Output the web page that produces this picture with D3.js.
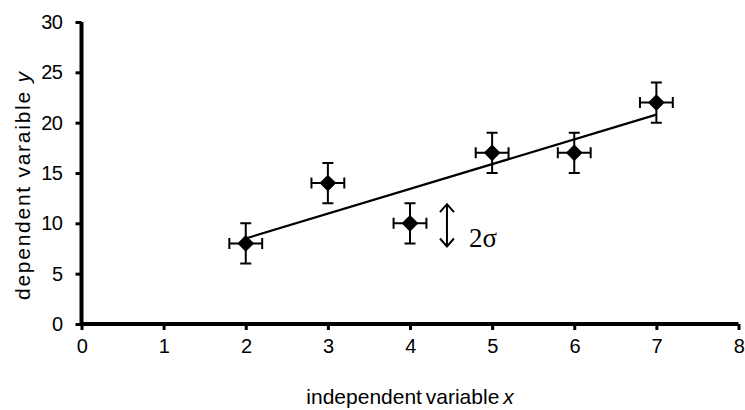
<!DOCTYPE html>
<html>
<head>
    <style>
        body { margin: 0; background: #fff; }
        text { font-family: "Liberation Sans", Arial, sans-serif; fill: #000; }
        .axis text { font-size: 20px; }
        .axis .tick line { stroke: #000; stroke-width: 3px; }
        .bar { stroke: #000; stroke-width: 2px; fill: none; }
    </style>
    <script src="https://d3js.org/d3.v7.min.js"></script>
</head>
<body>
    <div id="chart"></div>

    <script>
        // measurements
        var xValues = [2, 3, 4, 5, 6, 7];
        var yValues = [8, 14, 10, 17, 17, 22];
        var xErr = [0.2, 0.2, 0.2, 0.2, 0.2, 0.2];
        var yErr = [2, 2, 2, 2, 2, 2];

        // fitted straight line (end points)
        var fitX = [2, 7];
        var fitY = [8.5, 20.8];

        var xTicks = [0, 1, 2, 3, 4, 5, 6, 7, 8];
        var yTicks = [0, 5, 10, 15, 20, 25, 30];

        var width = 745, height = 410;

        var svg = d3.select("#chart")
                    .append("svg")
                    .attr("width", width)
                    .attr("height", height);

        var x = d3.scaleLinear().domain([0, 8]).range([81.5, 738.5]);
        var y = d3.scaleLinear().domain([0, 30]).range([324, 22]);

        function tidy(g) {
            g.select(".domain").remove();
            g.selectAll(".tick text").attr("letter-spacing", "-0.5px");
        }

        svg.append("g")
            .attr("class", "axis")
            .attr("transform", "translate(0," + y(0) + ")")
            .call(d3.axisBottom(x).tickValues(xTicks).tickSize(6).tickSizeOuter(0).tickPadding(9))
            .call(tidy);

        svg.append("g")
            .attr("class", "axis")
            .attr("transform", "translate(" + x(0) + ",0)")
            .call(d3.axisLeft(y).tickValues(yTicks).tickSize(6).tickSizeOuter(0).tickPadding(13))
            .call(tidy);

        // heavy axis lines
        svg.append("path")
            .attr("d", "M" + x(0) + "," + y(30) + "V" + y(0) + "H" + x(8))
            .attr("fill", "none")
            .attr("stroke", "#000")
            .attr("stroke-width", 4);

        // trend line
        svg.append("line")
            .attr("x1", x(fitX[0])).attr("y1", y(fitY[0]))
            .attr("x2", x(fitX[1])).attr("y2", y(fitY[1]))
            .attr("stroke", "#000")
            .attr("stroke-width", 2.2);

        var points = xValues.map(function(v, i) {
            return { x: v, y: yValues[i], ex: xErr[i], ey: yErr[i] };
        });

        var cap = 5.5;
        var pt = svg.selectAll(".pt")
            .data(points)
            .enter()
            .append("g")
            .attr("class", "pt");

        // vertical error bars
        pt.append("path")
            .attr("class", "bar")
            .attr("d", function(d) {
                var cx = x(d.x), y1 = y(d.y + d.ey), y2 = y(d.y - d.ey);
                return "M" + cx + "," + y1 + "V" + y2 +
                       "M" + (cx - cap) + "," + y1 + "H" + (cx + cap) +
                       "M" + (cx - cap) + "," + y2 + "H" + (cx + cap);
            });

        // horizontal error bars
        pt.append("path")
            .attr("class", "bar")
            .attr("d", function(d) {
                var cy = y(d.y), x1 = x(d.x - d.ex), x2 = x(d.x + d.ex);
                return "M" + x1 + "," + cy + "H" + x2 +
                       "M" + x1 + "," + (cy - cap) + "V" + (cy + cap) +
                       "M" + x2 + "," + (cy - cap) + "V" + (cy + cap);
            });

        pt.append("path")
            .attr("d", d3.symbol().type(d3.symbolSquare).size(140))
            .attr("transform", function(d) {
                return "translate(" + x(d.x) + "," + y(d.y) + ") rotate(45)";
            })
            .attr("fill", "#000");

        // 2 sigma annotation
        var arrowX = x(4.45), aTop = y(11.9), aBot = y(7.7);
        svg.append("path")
            .attr("d", "M" + arrowX + "," + aTop + "V" + aBot +
                       "M" + (arrowX - 7) + "," + (aTop + 8) + "L" + arrowX + "," + aTop + "L" + (arrowX + 7) + "," + (aTop + 8) +
                       "M" + (arrowX - 7) + "," + (aBot - 8) + "L" + arrowX + "," + aBot + "L" + (arrowX + 7) + "," + (aBot - 8))
            .attr("fill", "none")
            .attr("stroke", "#000")
            .attr("stroke-width", 2);

        svg.append("text")
            .attr("x", 469)
            .attr("y", 247)
            .style("font-family", "'Liberation Serif', 'Times New Roman', serif")
            .style("font-size", "27px")
            .text("2σ");

        // axis titles
        var xt = svg.append("text")
            .attr("x", 410)
            .attr("y", 404)
            .attr("text-anchor", "middle")
            .attr("word-spacing", "-2px")
            .style("font-size", "21px");
        xt.append("tspan").text("independent variable ");
        xt.append("tspan").style("font-style", "italic").text("x");

        var yt = svg.append("text")
            .attr("transform", "translate(30,186) rotate(-90)")
            .attr("text-anchor", "middle")
            .attr("textLength", 228)
            .attr("lengthAdjust", "spacing")
            .style("font-size", "21px");
        yt.append("tspan").text("dependent varaible ");
        yt.append("tspan").style("font-style", "italic").text("y");
    </script>
</body>
</html>
